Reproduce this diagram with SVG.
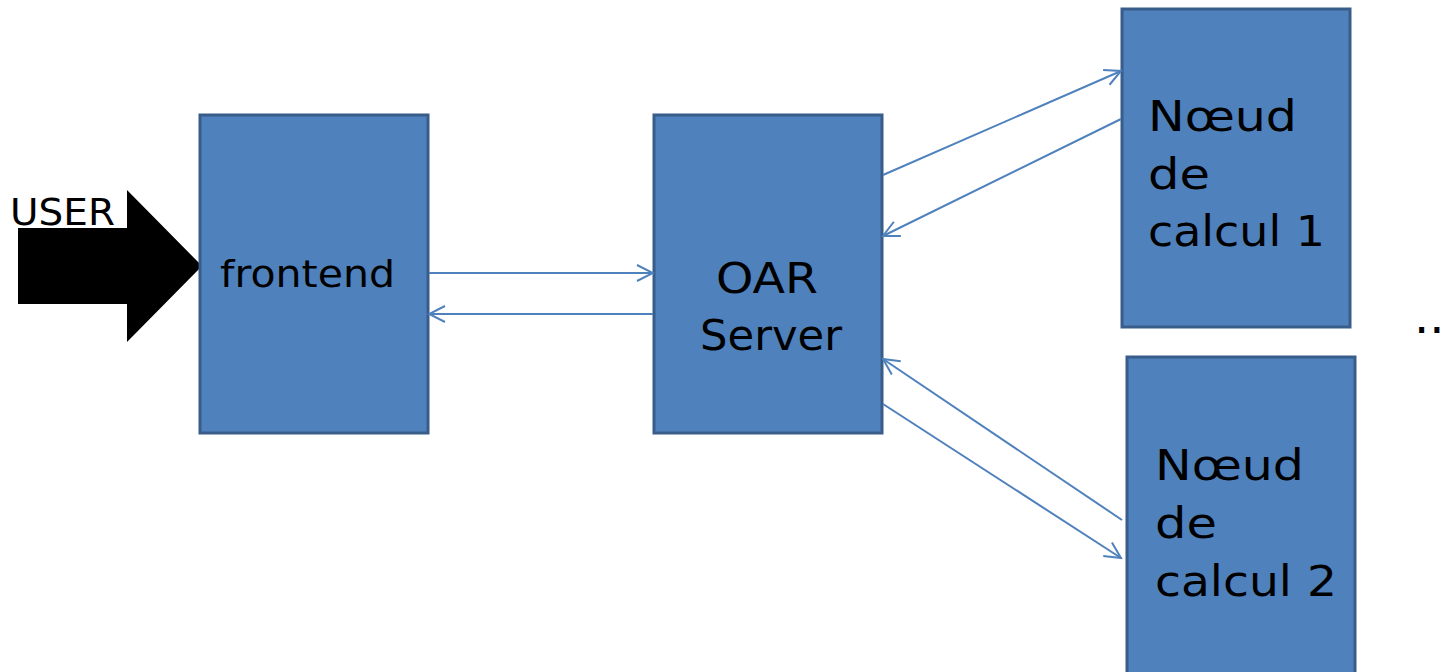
<svg xmlns="http://www.w3.org/2000/svg" width="1448" height="672" viewBox="0 0 1448 672">
<style>
.box{fill:#4F81BD;stroke:#385D8A;stroke-width:3}
.t{font-family:"DejaVu Sans","Liberation Sans",sans-serif;fill:#000}
.c{stroke:#4F81BD;stroke-width:2;fill:none;marker-end:url(#ah)}
</style>
<defs>
<marker id="ah" viewBox="0 0 20 20" refX="18" refY="10" markerWidth="20" markerHeight="20" markerUnits="userSpaceOnUse" orient="auto">
<path d="M2,2 L18,10 L2,18" fill="none" stroke="#4F81BD" stroke-width="2"/>
</marker>
</defs>
<rect width="1448" height="672" fill="#fff"/>
<g id="user">
<polygon points="18,228 127,228 127,190 202,266 127,342 127,304 18,304" fill="#000"/>
<text class="t" x="10" y="225" font-size="38" textLength="105" lengthAdjust="spacingAndGlyphs">USER</text>
</g>
<g id="frontend">
<rect class="box" x="200" y="115" width="228" height="318"/>
<text class="t" x="220" y="287" font-size="38" textLength="175" lengthAdjust="spacingAndGlyphs">frontend</text>
</g>
<g id="oar">
<rect class="box" x="654" y="115" width="228" height="318"/>
<text class="t" x="716" y="293" font-size="42" textLength="102" lengthAdjust="spacingAndGlyphs">OAR</text>
<text class="t" x="700" y="350" font-size="42" textLength="142" lengthAdjust="spacingAndGlyphs">Server</text>
</g>
<g id="node1">
<rect class="box" x="1122" y="9" width="228" height="318"/>
<text class="t" x="1148" y="131" font-size="42" textLength="149" lengthAdjust="spacingAndGlyphs">Nœud</text>
<text class="t" x="1148" y="189" font-size="42" textLength="62" lengthAdjust="spacingAndGlyphs">de</text>
<text class="t" x="1148" y="246" font-size="42" textLength="177" lengthAdjust="spacingAndGlyphs">calcul 1</text>
</g>
<g id="node2">
<rect class="box" x="1127" y="357" width="228" height="330"/>
<text class="t" x="1155" y="480" font-size="42" textLength="149" lengthAdjust="spacingAndGlyphs">Nœud</text>
<text class="t" x="1155" y="538" font-size="42" textLength="62" lengthAdjust="spacingAndGlyphs">de</text>
<text class="t" x="1155" y="596" font-size="42" textLength="182" lengthAdjust="spacingAndGlyphs">calcul 2</text>
</g>
<g id="dots">
<text class="t" x="1414" y="333" font-size="48">..</text>
</g>
<g id="connectors">
<line class="c" x1="429" y1="273" x2="653" y2="273"/>
<line class="c" x1="653" y1="314" x2="429" y2="314"/>
<line class="c" x1="883" y1="175" x2="1121" y2="71"/>
<line class="c" x1="1121" y1="119" x2="883" y2="236"/>
<line class="c" x1="1122" y1="520" x2="883" y2="359"/>
<line class="c" x1="883" y1="404" x2="1121" y2="558"/>
</g>
</svg>
